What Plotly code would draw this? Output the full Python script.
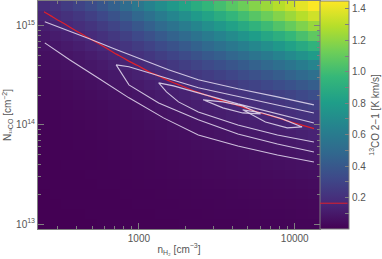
import plotly.graph_objects as go

# ---------------- data ----------------
# grid centres (log10)
log_nH2 = [2.390, 2.465, 2.541, 2.616, 2.691, 2.767, 2.842, 2.918, 2.993, 3.068,
           3.144, 3.219, 3.295, 3.370, 3.445, 3.521, 3.596, 3.671, 3.747, 3.822,
           3.898, 3.973, 4.048, 4.124]
log_N13CO_top_down = [15.2, 15.1, 15.0, 14.9, 14.8, 14.7, 14.6, 14.5, 14.4, 14.3, 14.2,
                      14.1, 14.0, 13.9, 13.8, 13.7, 13.6, 13.5, 13.4, 13.3, 13.2, 13.1, 13.0]

# 13CO 2-1 integrated intensity [K km/s], rows from top (high N) to bottom
intensity_top_down = [
    [0.186,0.216,0.252,0.292,0.338,0.391,0.448,0.512,0.577,0.643,0.707,0.771,0.835,0.897,0.955,1.011,1.069,1.122,1.179,1.231,1.288,1.338,1.395,1.445],
    [0.149,0.174,0.203,0.236,0.275,0.319,0.368,0.423,0.481,0.540,0.600,0.660,0.720,0.780,0.838,0.894,0.951,1.006,1.064,1.119,1.177,1.232,1.291,1.346],
    [0.119,0.139,0.163,0.190,0.221,0.257,0.298,0.345,0.395,0.446,0.499,0.552,0.607,0.663,0.717,0.770,0.825,0.879,0.935,0.991,1.049,1.106,1.166,1.224],
    [0.095,0.111,0.130,0.152,0.177,0.207,0.240,0.279,0.320,0.364,0.409,0.455,0.503,0.552,0.600,0.649,0.699,0.749,0.802,0.855,0.910,0.966,1.025,1.084],
    [0.076,0.088,0.104,0.121,0.141,0.165,0.193,0.224,0.258,0.294,0.331,0.370,0.411,0.453,0.495,0.537,0.581,0.626,0.673,0.721,0.772,0.824,0.879,0.936],
    [0.060,0.070,0.082,0.096,0.113,0.132,0.154,0.179,0.207,0.236,0.267,0.299,0.333,0.368,0.403,0.439,0.476,0.515,0.555,0.597,0.642,0.689,0.738,0.790],
    [0.048,0.056,0.066,0.077,0.090,0.105,0.123,0.143,0.165,0.189,0.214,0.240,0.268,0.296,0.325,0.355,0.386,0.418,0.452,0.488,0.526,0.566,0.610,0.655],
    [0.038,0.044,0.052,0.061,0.071,0.084,0.098,0.114,0.132,0.151,0.171,0.192,0.214,0.238,0.261,0.285,0.310,0.337,0.365,0.395,0.426,0.460,0.496,0.534],
    [0.030,0.035,0.041,0.049,0.057,0.067,0.078,0.091,0.105,0.120,0.136,0.153,0.171,0.190,0.209,0.229,0.249,0.271,0.293,0.318,0.344,0.371,0.401,0.433],
    [0.024,0.028,0.033,0.039,0.045,0.053,0.062,0.072,0.084,0.096,0.108,0.122,0.136,0.151,0.166,0.182,0.199,0.216,0.235,0.254,0.276,0.298,0.322,0.348],
    [0.019,0.022,0.026,0.031,0.036,0.042,0.049,0.057,0.066,0.076,0.086,0.097,0.109,0.121,0.133,0.146,0.158,0.172,0.187,0.203,0.220,0.238,0.258,0.279],
    [0.015,0.018,0.021,0.024,0.029,0.033,0.039,0.046,0.053,0.061,0.069,0.077,0.087,0.096,0.106,0.116,0.127,0.138,0.150,0.163,0.175,0.190,0.205,0.222],
    [0.012,0.014,0.017,0.019,0.023,0.027,0.031,0.036,0.042,0.048,0.055,0.061,0.069,0.076,0.084,0.092,0.101,0.110,0.119,0.129,0.140,0.152,0.165,0.177],
    [0.010,0.011,0.013,0.015,0.018,0.021,0.025,0.029,0.033,0.038,0.043,0.049,0.055,0.061,0.067,0.073,0.080,0.087,0.095,0.103,0.111,0.121,0.131,0.142],
    [0.008,0.009,0.010,0.012,0.014,0.017,0.020,0.023,0.027,0.030,0.034,0.039,0.043,0.048,0.053,0.058,0.064,0.069,0.075,0.082,0.089,0.096,0.104,0.113],
    [0.006,0.007,0.008,0.010,0.011,0.013,0.016,0.018,0.021,0.024,0.027,0.031,0.034,0.038,0.042,0.046,0.050,0.055,0.060,0.065,0.070,0.076,0.083,0.090],
    [0.005,0.006,0.007,0.008,0.009,0.011,0.012,0.014,0.017,0.019,0.022,0.024,0.027,0.030,0.034,0.037,0.040,0.044,0.047,0.052,0.056,0.061,0.066,0.071],
    [0.004,0.004,0.005,0.006,0.007,0.008,0.010,0.011,0.013,0.015,0.017,0.019,0.022,0.024,0.027,0.029,0.032,0.035,0.038,0.041,0.044,0.048,0.052,0.057],
    [0.003,0.004,0.004,0.005,0.006,0.007,0.008,0.009,0.011,0.012,0.014,0.015,0.017,0.019,0.021,0.023,0.025,0.028,0.030,0.033,0.035,0.038,0.041,0.045],
    [0.002,0.003,0.003,0.004,0.005,0.005,0.006,0.007,0.008,0.010,0.011,0.012,0.014,0.015,0.017,0.018,0.020,0.022,0.024,0.026,0.028,0.030,0.033,0.036],
    [0.002,0.002,0.003,0.003,0.004,0.004,0.005,0.006,0.007,0.008,0.009,0.010,0.011,0.012,0.013,0.015,0.016,0.017,0.019,0.021,0.022,0.024,0.026,0.028],
    [0.002,0.002,0.002,0.002,0.003,0.003,0.004,0.005,0.005,0.006,0.007,0.008,0.009,0.010,0.011,0.012,0.013,0.014,0.015,0.016,0.018,0.019,0.021,0.023],
    [0.001,0.001,0.002,0.002,0.002,0.003,0.003,0.004,0.004,0.005,0.006,0.006,0.007,0.008,0.008,0.009,0.010,0.011,0.012,0.013,0.014,0.015,0.017,0.018],
]

observed_intensity = 0.164   # K km/s (red line)
cbar_max = 1.45

# white (likelihood) contours: (log10 n_H2, log10 N_13CO)
contour_lines = [
    # outermost level: upper edge
    ([2.396, 2.555, 2.682, 2.841, 3.019, 3.190, 3.381, 3.635, 3.889, 4.123],
     [15.040, 14.949, 14.869, 14.768, 14.657, 14.556, 14.455, 14.364, 14.283, 14.202]),
    # outermost level: lower edge
    ([2.396, 2.555, 2.746, 2.936, 3.158, 3.381, 3.635, 3.889, 4.123],
     [14.828, 14.657, 14.465, 14.273, 14.071, 13.899, 13.788, 13.697, 13.626]),
    # second level
    ([4.123, 3.889, 3.635, 3.381, 3.127, 2.936, 2.854, 2.885, 2.936, 3.127, 3.381, 3.635, 3.889, 4.123],
     [14.121, 14.202, 14.283, 14.374, 14.495, 14.586, 14.606, 14.525, 14.404, 14.222, 14.051, 13.909, 13.808, 13.727]),
    # third level
    ([4.123, 3.889, 3.635, 3.381, 3.222, 3.127, 3.177, 3.254, 3.381, 3.635, 3.889, 4.123],
     [14.020, 14.111, 14.212, 14.323, 14.394, 14.424, 14.333, 14.232, 14.131, 14.000, 13.899, 13.828]),
    # inner closed levels
    ([3.412, 3.539, 3.666, 3.781, 3.666, 3.539, 3.412],
     [14.253, 14.232, 14.192, 14.111, 14.121, 14.172, 14.253]),
    ([3.666, 3.793, 3.920, 4.047, 3.952, 3.812, 3.666],
     [14.152, 14.121, 14.061, 13.980, 13.970, 14.030, 14.152]),
]

tick_n = [1000, 10000]
tick_N = [1e13, 1e14, 1e15]
cbar_ticks = [0.1, 0.2, 0.3, 0.4, 0.5, 0.6, 0.7, 0.8, 0.9, 1.0, 1.1, 1.2, 1.3, 1.4]
cbar_labels = ["", "0.2", "", "0.4", "", "0.6", "", "0.8", "", "1.0", "", "1.2", "", "1.4"]

# ---------------- derived grid ----------------
nx = len(log_nH2)
x_edges_log = [log_nH2[0] - (log_nH2[1] - log_nH2[0]) / 2]
x_edges_log += [(log_nH2[i] + log_nH2[i + 1]) / 2 for i in range(nx - 1)]
x_edges_log += [log_nH2[-1] + (log_nH2[-1] - log_nH2[-2]) / 2]
log_N = log_N13CO_top_down[::-1]
z = intensity_top_down[::-1]
ny = len(log_N)
y_edges_log = [log_N[0] - (log_N[1] - log_N[0]) / 2]
y_edges_log += [(log_N[i] + log_N[i + 1]) / 2 for i in range(ny - 1)]
y_edges_log += [log_N[-1] + (log_N[-1] - log_N[-2]) / 2]

x_edges = [10 ** v for v in x_edges_log]
y_edges = [10 ** v for v in y_edges_log]
x_c = [10 ** v for v in log_nH2]
y_c = [10 ** v for v in log_N]

GRAY = "#7f7f7f"
TXT = "#555555"
FONT = "Liberation Sans"

fig = go.Figure()
fig.add_trace(go.Heatmap(
    x=x_edges, y=y_edges, z=z, colorscale="Viridis", zmin=0, zmax=cbar_max,
    hoverinfo="skip",
    colorbar=dict(
        x=1.0, xanchor="left", xpad=0, y=0.5, yanchor="middle", ypad=0,
        len=1, lenmode="fraction", thickness=29, thicknessmode="pixels",
        outlinecolor=GRAY, outlinewidth=1,
        ticks="inside", ticklen=4, tickcolor=GRAY,
        tickmode="array", tickvals=cbar_ticks, ticktext=cbar_labels,
        tickfont=dict(family=FONT, size=10, color=TXT),
        title=dict(text="<sup>13</sup>CO 2\u22121 [K km/s]", side="right",
                   font=dict(family=FONT, size=10, color=TXT)),
    ),
))

for lx, ly in contour_lines:
    fig.add_trace(go.Scatter(
        x=[10 ** v for v in lx], y=[10 ** v for v in ly], mode="lines",
        line=dict(color="rgba(230,222,242,0.85)", width=1.1),
        showlegend=False, hoverinfo="skip"))

fig.add_trace(go.Contour(
    x=x_c, y=y_c, z=z, showscale=False, hoverinfo="skip",
    contours=dict(start=observed_intensity, end=observed_intensity, size=1,
                  coloring="none", showlabels=False),
    line=dict(color="#e0202a", width=1.2),
))

# red marker on the colour bar at the observed value
fig.add_annotation(x=1.0, xref="paper", y=observed_intensity / cbar_max, yref="paper",
                   ax=29, ay=0, showarrow=True, arrowhead=0, arrowwidth=1,
                   arrowcolor="#e0202a", text="", standoff=0, startstandoff=0)

minor_n = [v * m for v in (100, 1000) for m in range(2, 10)] + [20000]
minor_N = [v * m for v in (1e12, 1e13, 1e14, 1e15) for m in range(2, 10)]

axis_common = dict(
    type="log", showline=True, linecolor=GRAY, linewidth=1, mirror="ticks",
    ticks="inside", ticklen=6, tickcolor=GRAY, showgrid=False, zeroline=False,
    tickfont=dict(family=FONT, size=10, color=TXT),
)
fig.update_layout(
    width=382, height=259,
    margin=dict(l=38, r=59, t=1, b=30),
    paper_bgcolor="white", plot_bgcolor="white",
    showlegend=False,
    xaxis=dict(axis_common, range=[x_edges_log[0], x_edges_log[-1]],
               tickvals=tick_n, ticktext=["1000", "10000"],
               minor=dict(tickvals=minor_n, ticks="inside", ticklen=3, tickcolor=GRAY),
               title=dict(text="n<sub>H\u2082</sub> [cm<sup>\u22123</sup>]", standoff=2,
                          font=dict(family=FONT, size=10, color=TXT))),
    yaxis=dict(axis_common, range=[y_edges_log[0], y_edges_log[-1]],
               tickvals=tick_N, ticktext=["10<sup>13</sup>", "10<sup>14</sup>", "10<sup>15</sup>"],
               minor=dict(tickvals=minor_N, ticks="inside", ticklen=3, tickcolor=GRAY),
               title=dict(text="N<sub>\u00b9\u00b3CO</sub> [cm<sup>\u22122</sup>]", standoff=2,
                          font=dict(family=FONT, size=10, color=TXT))),
)

fig.write_html("out.html", config={"displayModeBar": False},
               post_script="document.body.style.margin='0';")
